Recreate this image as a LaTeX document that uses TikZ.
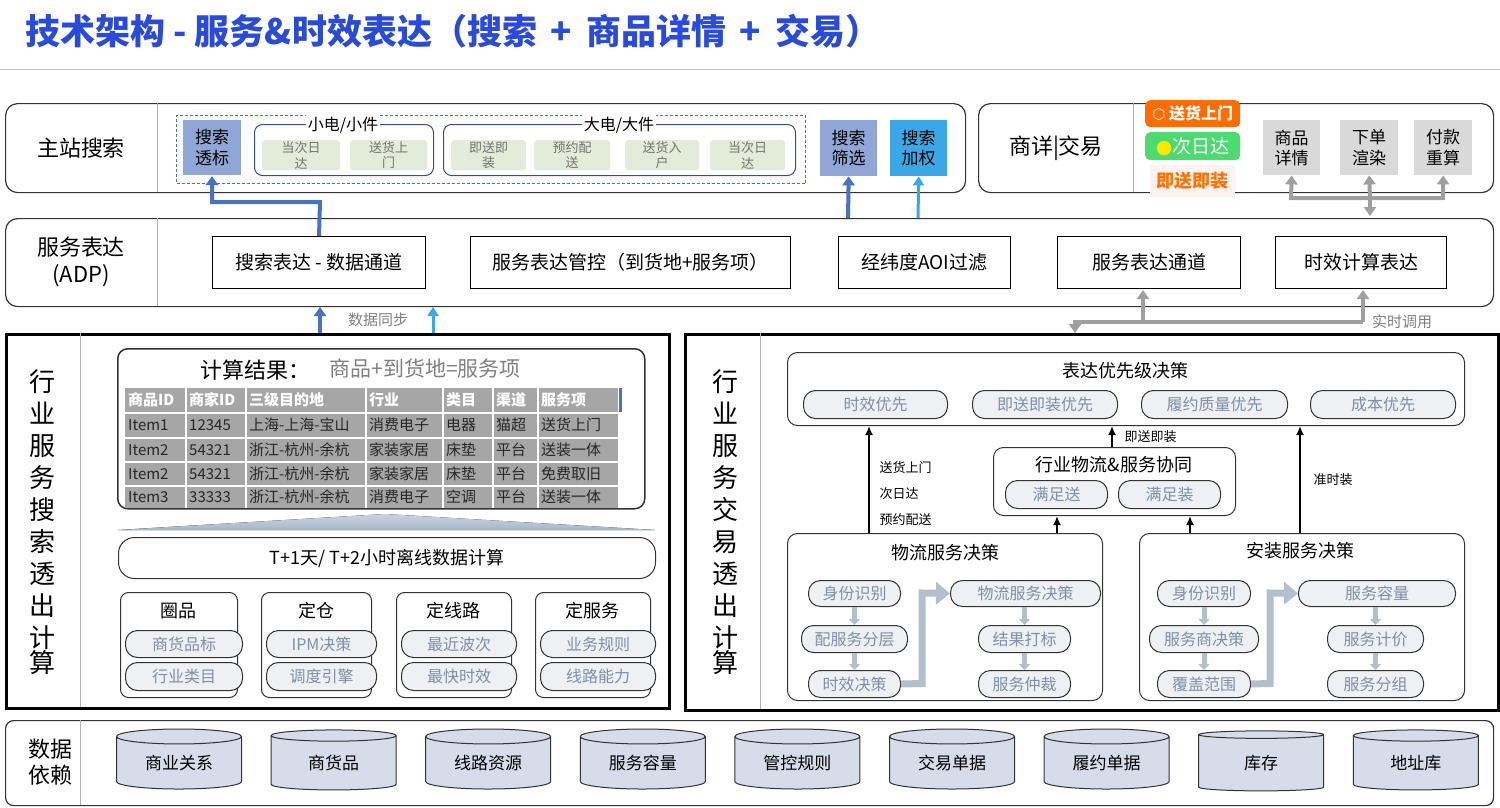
\documentclass[tikz,border=0pt]{standalone}
\usepackage{fontspec}
\setmainfont{Noto Sans CJK SC}
\usetikzlibrary{arrows.meta,shapes.geometric}
\definecolor{ttl}{HTML}{2A4BD7}
\definecolor{sblue}{HTML}{8FA6D6}
\definecolor{lblue}{HTML}{3AA8E6}
\definecolor{dblue}{HTML}{4A72C4}
\definecolor{grn}{HTML}{E3EBD9}
\definecolor{pilltx}{HTML}{7F8FA6}
\definecolor{pillbg}{HTML}{EEF0F3}
\definecolor{arr}{HTML}{B4BFCC}
\definecolor{cyl}{HTML}{D6DCE9}
\definecolor{tbl}{HTML}{A6A6A6}
\definecolor{trap}{HTML}{A9B6C9}
\newcommand{\mybox}[7]{\node[#6, anchor=north west, minimum width={(#4-#2)*1pt}, minimum height={(#5-#3)*1pt}] (#1) at (#2,#3) {#7};}
\newcommand{\fs}[1]{\fontsize{#1pt}{\the\dimexpr #1pt*6/5\relax}\selectfont}
\begin{document}
\begin{tikzpicture}[x=1pt,y=-1pt,
 outer/.style={draw=black!80,rounded corners=12pt,line width=1.2pt,inner sep=0},
 panel/.style={draw=black,line width=3pt,inner sep=0},
 sq/.style={draw=black,line width=1pt,inner sep=0,font=\fs{19},align=center},
 grp/.style={draw=dblue!70!black,rounded corners=8pt,line width=1pt,inner sep=0},
 gtag/.style={fill=grn,rounded corners=3pt,inner sep=0,font=\fs{13},text=black!55,align=center},
 pill/.style={draw=black!80,fill=pillbg,rounded corners=12pt,line width=1pt,inner sep=0,font=\fs{16},text=pilltx},
 rbox/.style={draw=black!80,rounded corners=10pt,line width=1pt,inner sep=0},
 lab/.style={font=\fs{22},align=center},
 sub/.style={font=\fs{18}},
 small/.style={font=\fs{13}},
 garr/.style={draw=gray!75,line width=4pt,-{Triangle[width=12pt,length=9pt]}},
 parr/.style={draw=arr,line width=5pt,-{Triangle[width=11pt,length=6pt]}},
 barr/.style={line width=1.8pt,-{Latex[length=9pt,width=8pt]}},
 cylnode/.style={cylinder,shape border rotate=90,aspect=0.22,draw=black!80,fill=cyl,line width=1pt,minimum width=125pt,minimum height=60pt,font=\fs{17},inner sep=0},
 vtext/.style={align=center,text width=28pt}]
\useasboundingbox (0,0) rectangle (1500,808);
\node[anchor=west,font=\bfseries\fs{35},text=ttl] (title) at (22,31) {技术架构 - 服务\&时效表达（搜索 \,+\, 商品详情 \,+\, 交易）};
\draw[gray!50,line width=1pt] (0,70) -- (1500,70);
% row1
\mybox{r1}{5}{103}{965}{192}{outer}{}
\draw[gray!60] (157,103) -- (157,192);
\node[lab] (r1l) at (81,148) {主站搜索};
\mybox{dash}{176}{115}{805}{183}{draw=dblue,densely dashed,line width=1pt,inner sep=0}{}
\mybox{stb}{183}{120}{241}{175}{fill=sblue,inner sep=0,font=\fs{17},align=center}{搜索\\透标}
\mybox{g1}{254}{124}{433}{175}{grp}{}
\node[fill=white,font=\fs{16},inner sep=2pt] (g1t) at (343,125) {小电/小件};
\mybox{a1}{262}{140}{340}{170}{gtag}{当次日\\达}
\mybox{a2}{350}{140}{427}{170}{gtag}{送货上\\门}
\mybox{g2}{443}{124}{795}{175}{grp}{}
\node[fill=white,font=\fs{16},inner sep=2pt] (g2t) at (619,125) {大电/大件};
\mybox{b1}{451}{140}{526}{170}{gtag}{即送即\\装}
\mybox{b2}{534}{140}{610}{170}{gtag}{预约配\\送}
\mybox{b3}{625}{140}{699}{170}{gtag}{送货入\\户}
\mybox{b4}{710}{140}{785}{170}{gtag}{当次日\\达}
\mybox{ssx}{820}{120}{877}{176}{fill=sblue,inner sep=0,font=\fs{17},align=center}{搜索\\筛选}
\mybox{sjq}{890}{120}{947}{176}{fill=lblue,inner sep=0,font=\fs{17},align=center}{搜索\\加权}
\mybox{r1b}{978}{103}{1493}{192}{outer}{}
\draw[gray!60] (1133,103) -- (1133,192);
\node[lab] (r1bl) at (1056,148) {商详|交易};
\mybox{k1}{1145}{100}{1240}{127}{fill=orange!85!red,rounded corners=5pt,inner sep=0,text=white,font=\bfseries\fs{16}}{{\fontspec{DejaVu Sans}\fs{15}⬡}\ 送货上门}
\mybox{k2}{1145}{132}{1240}{160}{fill=green!60!teal!70,rounded corners=5pt,inner sep=0,text=white,font=\fs{19}}{{\color{yellow!90!orange}\fontspec{DejaVu Sans}●}次日达}
\mybox{k3}{1150}{165}{1235}{197}{fill=red!5,inner sep=0,text=orange!90!red,font=\bfseries\fs{18}}{即送即装}
\mybox{spx}{1263}{120}{1320}{175}{fill=gray!30,inner sep=0,font=\fs{17},align=center}{商品\\详情}
\mybox{xdx}{1340}{120}{1398}{175}{fill=gray!30,inner sep=0,font=\fs{17},align=center}{下单\\渲染}
\mybox{fkx}{1414}{120}{1472}{175}{fill=gray!30,inner sep=0,font=\fs{17},align=center}{付款\\重算}
% row2
\mybox{r2}{5}{218}{1493}{306}{outer}{}
\draw[gray!60] (157,218) -- (157,306);
\node[lab] (r2l) at (81,262) {服务表达\\(ADP)};
\mybox{c1}{212}{236}{425}{288}{sq}{搜索表达 - 数据通道}
\mybox{c2}{470}{236}{790}{288}{sq}{服务表达管控（到货地+服务项）}
\mybox{c3}{838}{236}{1010}{288}{sq}{经纬度AOI过滤}
\mybox{c4}{1057}{236}{1240}{288}{sq}{服务表达通道}
\mybox{c5}{1275}{236}{1446}{288}{sq}{时效计算表达}
% row1-row2 connectors
\draw[dblue,line width=4pt,-{Triangle[width=12pt,length=9pt]}] (c1.north) -- (320,202) -- (212,202) -- (212,176);
\draw[dblue,line width=4pt,-{Triangle[width=12pt,length=9pt]}] (848,218) -- (ssx.south);
\draw[lblue,line width=3pt,-{Triangle[width=11pt,length=9pt]}] (918,218) -- (sjq.south);
\coordinate (hub) at (1370,198);
\draw[garr] (hub) -- (1291,198) -- (spx.south);
\draw[garr] (hub) -- (1443,198) -- (fkx.south);
\draw[garr] (hub) -- (xdx.south);
\draw[garr] (hub) -- (1370,216);
% row2 lower connectors
\coordinate (ds1) at (320,335); \coordinate (ds2) at (433,335);
\draw[dblue,line width=4pt,-{Triangle[width=12pt,length=9pt]}] (ds1) -- (320,307);
\draw[lblue,line width=3pt,-{Triangle[width=11pt,length=9pt]}] (ds2) -- (433,307);
\node[font=\fs{15},text=gray] (dst) at (378,320) {数据同步};
\coordinate (rt) at (1075,322);
\draw[draw=gray!75,line width=4pt] (rt) -- (1363,322);
\draw[garr] (1143,322) -- (1143,290);
\draw[garr] (1363,322) -- (1363,290);
\draw[garr] (1075,320) -- (1075,333);
\node[font=\fs{15},text=gray] (rtt) at (1402,322) {实时调用};
% left panel
\mybox{P1}{5}{333}{668}{707}{panel}{}
\draw[gray!60] (80,333) -- (80,707);
\node[vtext,inner sep=0] (v1) at (42,522) {\fontsize{26pt}{32pt}\selectfont 行\\业\\服\\务\\搜\\索\\透\\出\\计\\算};
\mybox{res}{117}{348}{644}{508}{rbox,line width=1.5pt}{}
\node[font=\fs{22}] (rest) at (255,370) {计算结果：};
\node[font=\fs{21},text=gray,anchor=west] (rest2) at (326,368) {商品+到货地=服务项};
\fill[tbl] (125,388) rectangle (618,508);
\fill[dblue] (619,388) rectangle (622,412);
\foreach \yy in {413,438,462,486} \draw[white,line width=2.5pt] (125,\yy) -- (618,\yy);
\foreach \xx in {186,246,366,443,493,538} \draw[white,line width=2pt] (\xx,388) -- (\xx,508);
\foreach \t [count=\i] in {商品ID,商家ID,三级目的地,行业,类目,渠道,服务项} {
  \pgfmathsetmacro{\cx}{{125,186,246,366,443,493,538}[\i-1]}
  \node[anchor=west,text=white,font=\bfseries\fs{15},inner sep=0] at (\cx+3,400) {\t};}
\foreach \r/\yy in {{Item1,12345,上海-上海-宝山,消费电子,电器,猫超,送货上门}/425,{Item2,54321,浙江-杭州-余杭,家装家居,床垫,平台,送装一体}/450,{Item2,54321,浙江-杭州-余杭,家装家居,床垫,平台,免费取旧}/474,{Item3,33333,浙江-杭州-余杭,消费电子,空调,平台,送装一体}/497} {
  \foreach \t [count=\i] in \r {
   \pgfmathsetmacro{\cx}{{125,186,246,366,443,493,538}[\i-1]}
   \node[anchor=west,text=black!85,font=\fs{15},inner sep=0] at (\cx+3,\yy) {\t};}}
\fill[top color=trap!60, bottom color=trap] (118,530) -- (385,514) -- (655,530) -- cycle;
\mybox{off}{118}{537}{655}{578}{rbox,rounded corners=16pt}{\fs{18}T+1天/ T+2小时离线数据计算}
\foreach \nm/\xa/\xb/\tt/\pa/\pb in {q1/120/237/圈品/商货品标/行业类目,q2/261/371/定仓/IPM决策/调度引擎,q3/396/511/定线路/最近波次/最快时效,q4/535/650/定服务/业务规则/线路能力} {
  \mybox{\nm}{\xa}{592}{\xb}{697}{rbox,rounded corners=8pt}{}
  \node[sub] (\nm t) at ({(\xa+\xb)/2},611) {\tt};
  \mybox{\nm a}{\xa+5}{630}{\xb-5}{657}{pill}{\pa}
  \mybox{\nm b}{\xa+5}{662}{\xb-5}{690}{pill}{\pb}
}
% right panel
\mybox{P2}{684}{333}{1497}{709}{panel}{}
\draw[gray!60] (760,333) -- (760,709);
\node[vtext,inner sep=0] (v2) at (725,522) {\fontsize{26pt}{32pt}\selectfont 行\\业\\服\\务\\交\\易\\透\\出\\计\\算};
\mybox{pri}{787}{352}{1464}{425}{rbox}{}
\node[sub] (prit) at (1125,371) {表达优先级决策};
\mybox{p1}{803}{390}{947}{418}{pill}{时效优先}
\mybox{p2}{972}{390}{1117}{418}{pill}{即送即装优先}
\mybox{p3}{1141}{390}{1287}{418}{pill}{履约质量优先}
\mybox{p4}{1310}{390}{1455}{418}{pill}{成本优先}
\mybox{co}{993}{447}{1235}{515}{rbox}{}
\node[sub] (cot) at (1114,465) {行业物流\&服务协同};
\mybox{m1}{1005}{480}{1107}{508}{pill}{满足送}
\mybox{m2}{1118}{480}{1220}{508}{pill}{满足装}
\mybox{wl}{787}{533}{1102}{700}{rbox}{}
\node[sub] (wlt) at (945,553) {物流服务决策};
\mybox{az}{1139}{533}{1464}{700}{rbox}{}
\node[sub] (azt) at (1300,551) {安装服务决策};
\draw[barr] (869,533) -- (869,426);
\node[small,anchor=west] (l1) at (876,468) {送货上门};
\node[small,anchor=west] (l2) at (876,494) {次日达};
\node[small,anchor=west] (l3) at (876,520) {预约配送};
\draw[barr] (1057,533) -- (1057,516);
\draw[barr] (1112,447) -- (1112,426);
\node[small,anchor=west] (l4) at (1121,437) {即送即装};
\draw[barr] (1190,533) -- (1190,516);
\draw[barr] (1300,533) -- (1300,426);
\node[small,anchor=west] (l5) at (1310,480) {准时装};
% logistics inner
\mybox{w1}{808}{580}{900}{606}{pill}{身份识别}
\mybox{w2}{801}{625}{907}{652}{pill}{配服务分层}
\mybox{w3}{808}{670}{900}{697}{pill}{时效决策}
\mybox{w4}{950}{580}{1100}{606}{pill}{物流服务决策}
\mybox{w5}{978}{625}{1070}{652}{pill}{结果打标}
\mybox{w6}{978}{670}{1070}{697}{pill}{服务仲裁}
\draw[parr] (w1) -- (w2); \draw[parr] (w2) -- (w3);
\draw[parr] (w4.south -| w5) -- (w5); \draw[parr] (w5) -- (w6);
\draw[draw=arr,line width=7pt,-{Triangle[width=22pt,length=14pt]}] (w3.east) -- (922,683.5) -- (922,593) -- (w4.west);
\mybox{i1}{1157}{580}{1250}{606}{pill}{身份识别}
\mybox{i2}{1149}{625}{1258}{652}{pill}{服务商决策}
\mybox{i3}{1157}{670}{1250}{697}{pill}{覆盖范围}
\mybox{i4}{1298}{580}{1455}{606}{pill}{服务容量}
\mybox{i5}{1327}{625}{1423}{652}{pill}{服务计价}
\mybox{i6}{1327}{670}{1423}{697}{pill}{服务分组}
\draw[parr] (i1) -- (i2); \draw[parr] (i2) -- (i3);
\draw[parr] (i4.south -| i5) -- (i5); \draw[parr] (i5) -- (i6);
\draw[draw=arr,line width=7pt,-{Triangle[width=22pt,length=14pt]}] (i3.east) -- (1270,683.5) -- (1270,593) -- (i4.west);
% bottom row
\mybox{r4}{5}{720}{1493}{805}{outer,rounded corners=8pt}{}
\draw[gray!60] (80,720) -- (80,805);
\node[lab] (r4l) at (50,762) {数据\\依赖};
\foreach \t [count=\i] in {商业关系,商货品,线路资源,服务容量,管控规则,交易单据,履约单据,库存,地址库} {
  \node[cylnode] (cy\i) at ({179+(\i-1)*154.6},763) {\raisebox{-6pt}{\t}};}
\end{tikzpicture}
\end{document}
